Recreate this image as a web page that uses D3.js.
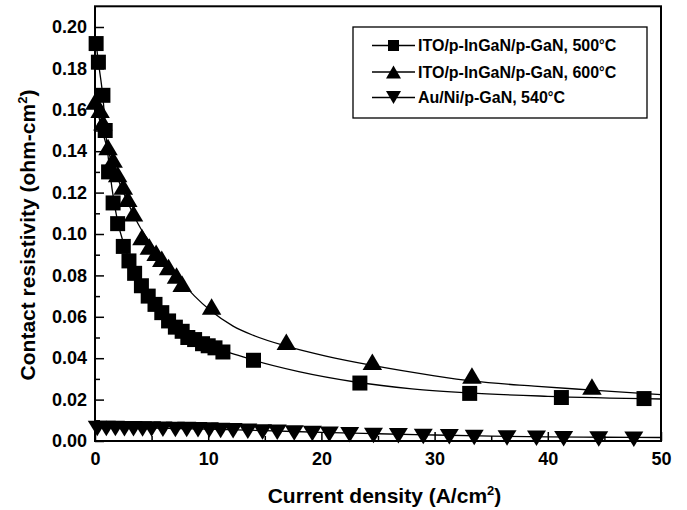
<!DOCTYPE html>
<html>
<head>
<meta charset="utf-8">
<script src="https://cdn.jsdelivr.net/npm/d3@7"></script>
<style>
  html, body { margin: 0; padding: 0; background: #fff; }
  svg { display: block; font-family: "Liberation Sans", Arial, sans-serif; font-weight: bold; }
</style>
</head>
<body>
<svg id="chart" width="687" height="510"></svg>
<script>
// ---- Data ----
const sqX = [0.1, 0.3, 0.7, 0.9, 1.2, 1.6, 2.0, 2.5, 3.0, 3.5, 4.1, 4.7, 5.3, 5.9, 6.5, 7.1, 7.7, 8.2, 8.8, 9.5, 10.0, 10.6, 11.3, 14.0, 23.4, 33.1, 41.2, 48.5];
const sqY = [0.192, 0.183, 0.167, 0.150, 0.130, 0.115, 0.105, 0.094, 0.087, 0.081, 0.075, 0.070, 0.066, 0.062, 0.058, 0.055, 0.053, 0.050, 0.049, 0.047, 0.046, 0.045, 0.043, 0.039, 0.028, 0.023, 0.021, 0.0205];

const upX = [0.0, 0.45, 0.7, 1.15, 1.6, 2.0, 2.5, 2.9, 3.4, 4.15, 4.8, 5.4, 5.9, 6.5, 7.2, 7.7, 10.3, 16.9, 24.5, 33.3, 43.9];
const upY = [0.164, 0.160, 0.154, 0.142, 0.136, 0.129, 0.123, 0.117, 0.110, 0.0985, 0.094, 0.091, 0.088, 0.084, 0.080, 0.076, 0.065, 0.048, 0.0383, 0.0316, 0.0263];

const dnX = [0.2, 1.0, 1.8, 2.6, 3.4, 4.2, 5.0, 6.0, 7.1, 8.1, 9.1, 10.1, 11.1, 12.2, 13.5, 14.8, 16.1, 17.6, 19.2, 20.7, 22.5, 24.6, 26.8, 29.0, 31.3, 33.5, 36.4, 39.0, 41.4, 44.5, 47.6];
const dnY = [0.0060, 0.0060, 0.0060, 0.0059, 0.0059, 0.0058, 0.0058, 0.0057, 0.0056, 0.0055, 0.0054, 0.0053, 0.0051, 0.0049, 0.0047, 0.0044, 0.0042, 0.0039, 0.0036, 0.0033, 0.0030, 0.0027, 0.0025, 0.0022, 0.0020, 0.0017, 0.0015, 0.0013, 0.0011, 0.0010, 0.0009];

// fitted curves
const sqFitX = [0.1, 0.3, 0.7, 1.0, 1.5, 2, 2.5, 3, 4, 5, 6, 7, 8, 10, 12, 14, 18, 23, 28, 33, 40, 50];
const sqFitY = [0.192, 0.183, 0.166, 0.146, 0.122, 0.106, 0.096, 0.088, 0.076, 0.067, 0.061, 0.056, 0.052, 0.046, 0.0425, 0.039, 0.0335, 0.0285, 0.0252, 0.0232, 0.0216, 0.0203];
const upFitX = [0.0, 0.5, 1, 2, 3, 4, 5, 6, 7, 8.8, 10.2, 12.2, 14, 16.9, 20.4, 24.5, 30, 33.3, 38.8, 43.9, 50];
const upFitY = [0.165, 0.153, 0.143, 0.127, 0.114, 0.103, 0.095, 0.088, 0.081, 0.070, 0.063, 0.0555, 0.051, 0.0458, 0.041, 0.0365, 0.0315, 0.029, 0.0265, 0.0246, 0.0224];
const dnFitX = [0, 5, 10, 15, 20, 25, 30, 35, 40, 45, 50];
const dnFitY = [0.0066, 0.0062, 0.0057, 0.0050, 0.0042, 0.0035, 0.0029, 0.0024, 0.0020, 0.0018, 0.0017];

const xTicks = [0, 10, 20, 30, 40, 50];
const xMinor = [5, 15, 25, 35, 45];
const yTicks = [0.00, 0.02, 0.04, 0.06, 0.08, 0.10, 0.12, 0.14, 0.16, 0.18, 0.20];
const yMinor = [0.01, 0.03, 0.05, 0.07, 0.09, 0.11, 0.13, 0.15, 0.17, 0.19];

const seriesNames = ["ITO/p-InGaN/p-GaN, 500", "ITO/p-InGaN/p-GaN, 600", "Au/Ni/p-GaN, 540"];

// ---- Layout ----
const L = 95, R = 661, T = 6.3, B = 441;
const svg = d3.select("#chart");
const x = d3.scaleLinear().domain([0, 50]).range([L, R]);
const y = d3.scaleLinear().domain([0, 0.21]).range([B, T]);

// symbols
const sym = {
  square: s => `M${-s/2},${-s/2}h${s}v${s}h${-s}Z`,
  up: (w, h) => `M0,${-h/2}L${w/2},${h/2}L${-w/2},${h/2}Z`,
  down: (w, h) => `M0,${h/2}L${w/2},${-h/2}L${-w/2},${-h/2}Z`
};

// fit lines
const line = d3.line().x(d => x(d[0])).y(d => y(d[1])).curve(d3.curveMonotoneX);
const fits = [[sqFitX, sqFitY], [upFitX, upFitY], [dnFitX, dnFitY]];
fits.forEach(([fx, fy]) => {
  svg.append("path")
    .attr("d", line(fx.map((v, i) => [v, fy[i]])))
    .attr("fill", "none").attr("stroke", "#000").attr("stroke-width", 1.3);
});

// markers
function drawMarkers(xs, ys, path) {
  svg.append("g").selectAll("path").data(xs.map((v, i) => [v, ys[i]])).join("path")
    .attr("transform", d => `translate(${x(d[0])},${y(d[1])})`)
    .attr("d", path).attr("fill", "#000");
}
drawMarkers(dnX, dnY, sym.down(19, 15.5));
drawMarkers(upX, upY, sym.up(19.5, 16.5));
drawMarkers(sqX, sqY, sym.square(15));

// frame
svg.append("rect").attr("x", L).attr("y", T).attr("width", R - L).attr("height", B - T)
  .attr("fill", "none").attr("stroke", "#000").attr("stroke-width", 2);

// axes (ticks pointing inward)
const xAxis = d3.axisBottom(x).tickValues(xTicks).tickSize(-9).tickPadding(11).tickFormat(d3.format("d"));
const gx = svg.append("g").attr("transform", `translate(0,${B})`).call(xAxis);
const yAxis = d3.axisLeft(y).tickValues(yTicks).tickSize(-9).tickPadding(8).tickFormat(d3.format(".2f"));
const gy = svg.append("g").attr("transform", `translate(${L},0)`).call(yAxis);
const gxm = svg.append("g").attr("transform", `translate(0,${B})`)
  .call(d3.axisBottom(x).tickValues(xMinor).tickSize(-5).tickFormat(""));
const gym = svg.append("g").attr("transform", `translate(${L},0)`)
  .call(d3.axisLeft(y).tickValues(yMinor).tickSize(-5).tickFormat(""));
[gx, gy, gxm, gym].forEach(g => {
  g.select(".domain").remove();
  g.selectAll(".tick line").attr("stroke", "#000").attr("stroke-width", 1.5);
  g.selectAll("text").attr("fill", "#000").style("font-size", "18px").style("font-weight", "bold")
    .style("font-family", '"Liberation Sans", Arial, sans-serif');
});

// axis titles
const xt = svg.append("text").attr("x", 384.5).attr("y", 503).attr("text-anchor", "middle")
  .style("font-size", "21px");
xt.append("tspan").text("Current density (A/cm");
xt.append("tspan").text("2").attr("dy", -8).style("font-size", "13px");
xt.append("tspan").text(")").attr("dy", 8);

const yt = svg.append("text").attr("transform", "translate(35,235) rotate(-90)").attr("text-anchor", "middle")
  .style("font-size", "21px");
yt.append("tspan").text("Contact resistivity (ohm-cm");
yt.append("tspan").text("2").attr("dy", -8).style("font-size", "13px");
yt.append("tspan").text(")").attr("dy", 8);

// legend
svg.append("rect").attr("x", 353).attr("y", 27).attr("width", 294).attr("height", 91)
  .attr("fill", "#fff").attr("stroke", "#000").attr("stroke-width", 1.3);
const legSyms = [sym.square(11), sym.up(15, 13), sym.down(15, 13)];
const rowY = [45.5, 72, 97.5];
seriesNames.forEach((name, i) => {
  const g = svg.append("g");
  g.append("line").attr("x1", 372).attr("x2", 415).attr("y1", rowY[i]).attr("y2", rowY[i])
    .attr("stroke", "#000").attr("stroke-width", 1.3);
  g.append("path").attr("d", legSyms[i]).attr("transform", `translate(393.5,${rowY[i]})`).attr("fill", "#000");
  const t = g.append("text").attr("x", 418).attr("y", rowY[i] + 5.8).style("font-size", "16px");
  t.append("tspan").text(name);
  t.append("tspan").text("°").style("font-size", "14px").attr("dy", -1);
  t.append("tspan").text("C").attr("dy", 1);
});
</script>
</body>
</html>
